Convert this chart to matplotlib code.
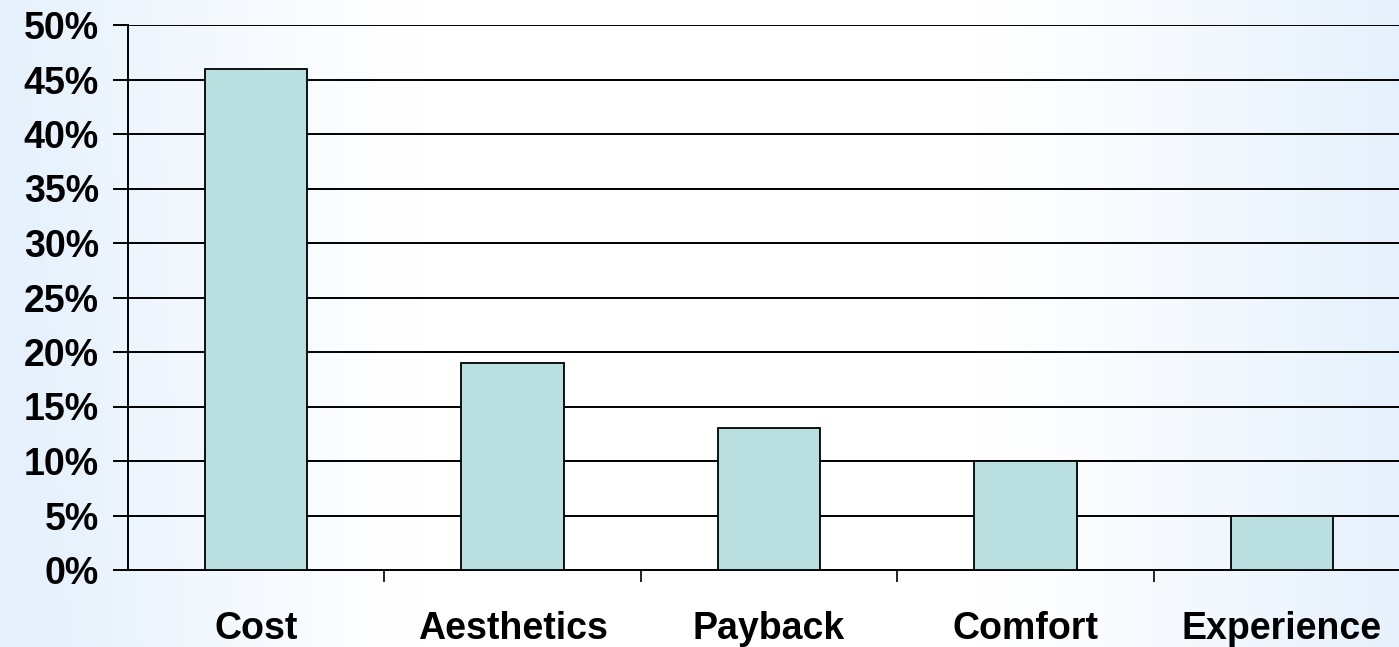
import matplotlib
matplotlib.use('Agg')
from matplotlib import pyplot as plt
import numpy as np

categories = ['Cost', 'Aesthetics', 'Payback', 'Comfort', 'Experience']
shares = [46, 19, 13, 10, 5]
y_ticks = [0, 5, 10, 15, 20, 25, 30, 35, 40, 45, 50]
y_labels = ['0%', '5%', '10%', '15%', '20%', '25%', '30%', '35%', '40%', '45%', '50%']

plt.rcParams['font.family'] = ['Liberation Sans', 'DejaVu Sans']

fig = plt.figure(figsize=(13.99, 6.47), dpi=100)

# soft blue gradient behind the chart, fading to white in the middle
bg = fig.add_axes([0, 0, 1, 1], zorder=0)
xx, yy = np.meshgrid(np.linspace(0, 1, 400), np.linspace(0, 1, 200))
t = np.clip((np.abs(xx - 0.5) * 2 - 0.4) / 0.6, 0, 1) ** 1.2
t = np.clip(t + 0.15 * yy * (xx < 0.5) * t, 0, 1)
white = np.array([1.0, 1.0, 1.0])
blue = np.array([0.90, 0.945, 0.99])
img = white[None, None, :] * (1 - t[..., None]) + blue[None, None, :] * t[..., None]
bg.imshow(img, aspect='auto', extent=[0, 1, 0, 1], origin='upper')
bg.axis('off')

ax = fig.add_axes([128 / 1399, 77 / 647, 1282 / 1399, 545 / 647], zorder=1)
ax.set_facecolor('none')

x = np.arange(len(categories))
ax.bar(x, shares, width=0.4, color='#B9DFE1', edgecolor='black', linewidth=1.3, zorder=3)

ax.set_xlim(-0.5, len(categories) - 0.5)
ax.set_ylim(0, 50)
ax.set_yticks(y_ticks)
ax.set_yticklabels(y_labels, fontsize=27, fontweight='bold')
ax.yaxis.grid(True, color='black', linewidth=1.4, zorder=1)
ax.set_axisbelow(True)
ax.tick_params(axis='y', length=10.8, width=1.4, pad=10)

ax.set_xticks(x)
ax.set_xticklabels(categories, fontsize=27, fontweight='bold')
ax.tick_params(axis='x', which='major', length=0, pad=29.5)
ax.set_xticks(np.arange(len(categories)) + 0.5, minor=True)
ax.tick_params(axis='x', which='minor', length=8.6, width=1.2)

for side in ['top', 'right']:
    ax.spines[side].set_visible(False)
for side in ['left', 'bottom']:
    ax.spines[side].set_linewidth(1.4)

plt.savefig('out.png', dpi=100)
